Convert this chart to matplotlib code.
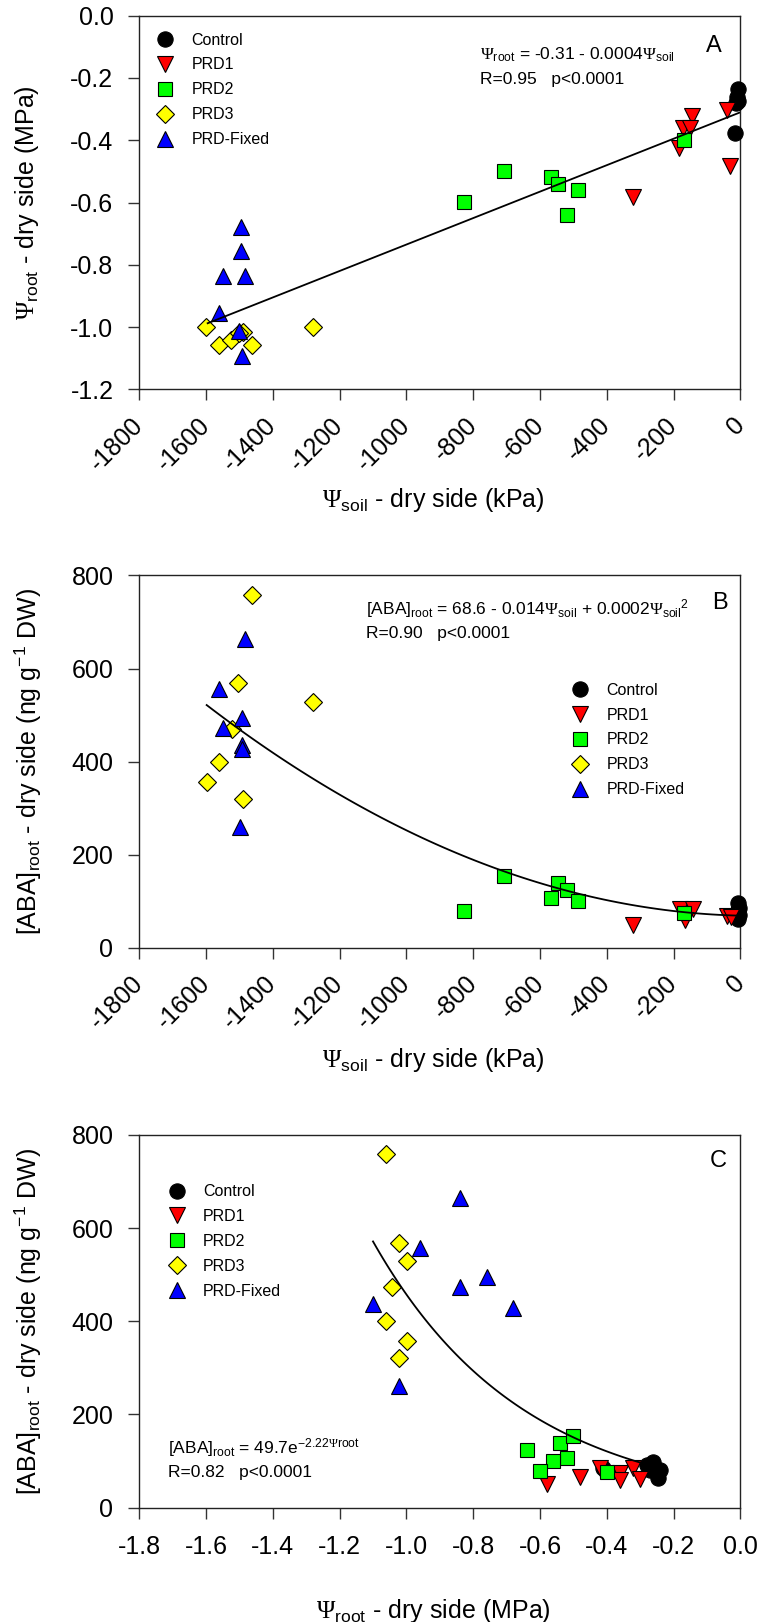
import numpy as np
import matplotlib
matplotlib.use("Agg")
import matplotlib.pyplot as plt
from matplotlib.lines import Line2D

plt.rcParams['font.family'] = ['Liberation Sans', 'DejaVu Sans']
plt.rcParams['mathtext.fontset'] = 'custom'
plt.rcParams['mathtext.rm'] = 'Liberation Serif'
plt.rcParams['mathtext.sf'] = 'Liberation Sans'
plt.rcParams['mathtext.it'] = 'Liberation Sans:italic'
plt.rcParams['axes.unicode_minus'] = False

# ---- data, panel A: soil water potential (kPa) vs root water potential (MPa)
a_ctrl_x = [-8, -10, -6, -12, -16]
a_ctrl_y = [-0.235, -0.26, -0.275, -0.28, -0.376]
a_prd1_x = [-321, -146, -173, -151, -183, -40, -31]
a_prd1_y = [-0.583, -0.322, -0.362, -0.362, -0.426, -0.303, -0.483]
a_prd2_x = [-827, -709, -567, -545, -486, -520, -170]
a_prd2_y = [-0.599, -0.50, -0.519, -0.541, -0.559, -0.639, -0.399]
a_prd3_x = [-1599, -1279, -1560, -1526, -1490, -1462, -1500]
a_prd3_y = [-0.999, -1.0, -1.058, -1.042, -1.015, -1.058, -1.02]
a_fix_x = [-1495, -1495, -1549, -1483, -1562, -1500, -1493]
a_fix_y = [-0.678, -0.755, -0.836, -0.836, -0.954, -1.013, -1.093]

# ---- data, panel B: soil water potential (kPa) vs root ABA (ng/g DW)
b_ctrl_x = [-6, -5, -8, -4, -7]
b_ctrl_y = [95, 85, 80, 70, 61]
b_prd1_x = [-321, -181, -141, -166, -40, -27]
b_prd1_y = [48, 84, 82, 60, 68, 66]
b_prd2_x = [-827, -709, -545, -520, -567, -486, -170]
b_prd2_y = [78, 154, 138, 124, 106, 100, 75]
b_prd3_x = [-1462, -1505, -1279, -1523, -1560, -1598, -1490]
b_prd3_y = [758, 568, 528, 471, 400, 356, 319]
b_fix_x = [-1483, -1561, -1493, -1548, -1493, -1493, -1499]
b_fix_y = [663, 556, 493, 473, 435, 426, 260]

# ---- data, panel C: root water potential (MPa) vs root ABA (ng/g DW)
c_ctrl_x = [-0.261, -0.281, -0.241, -0.246, -0.271, -0.41]
c_ctrl_y = [99, 92, 81, 63, 81, 85]
c_prd1_x = [-0.580, -0.481, -0.421, -0.361, -0.361, -0.321, -0.301]
c_prd1_y = [50, 66, 85, 74, 60, 85, 61]
c_prd2_x = [-0.640, -0.540, -0.500, -0.520, -0.560, -0.600, -0.401]
c_prd2_y = [124, 138, 154, 106, 101, 79, 77]
c_prd3_x = [-1.062, -1.021, -0.999, -1.042, -1.062, -0.999, -1.021]
c_prd3_y = [758, 569, 529, 474, 401, 358, 321]
c_fix_x = [-0.840, -0.959, -0.760, -0.840, -0.680, -1.101, -1.021]
c_fix_y = [665, 558, 496, 474, 428, 437, 261]

# tick values
kpa_ticks = [-1800, -1600, -1400, -1200, -1000, -800, -600, -400, -200, 0]
mpa_ticks = [-1.2, -1.0, -0.8, -0.6, -0.4, -0.2, 0.0]
aba_ticks = [0, 200, 400, 600, 800]
root_ticks = [-1.8, -1.6, -1.4, -1.2, -1.0, -0.8, -0.6, -0.4, -0.2, 0.0]

# fitted regressions
fitA = (-0.31, 0.000425)
fitB = (68.6, -0.0165, 0.000167)
fitC = (49.7, -2.22)

groups = ['Control', 'PRD1', 'PRD2', 'PRD3', 'PRD-Fixed']
styles = {
    'Control': dict(marker='o', color='black', ms=11),
    'PRD1': dict(marker='v', color='#ff0000', ms=12),
    'PRD2': dict(marker='s', color='#00ff00', ms=10),
    'PRD3': dict(marker='D', color='#ffff00', ms=9.4),
    'PRD-Fixed': dict(marker='^', color='#0000ff', ms=12),
}


def fmt1(v):
    return '%.1f' % v if abs(v) > 1e-9 else '0.0'


def scatter_groups(ax, xs, ys):
    for g, x, y in zip(groups, xs, ys):
        st = styles[g]
        ax.plot(x, y, linestyle='none', marker=st['marker'], ms=st['ms'],
                markerfacecolor=st['color'], markeredgecolor='black',
                markeredgewidth=0.8, clip_on=False, zorder=3)


def add_legend(ax, x, y):
    handles = []
    for g in groups:
        st = styles[g]
        handles.append(Line2D([], [], linestyle='none', marker=st['marker'], ms=st['ms'],
                              markerfacecolor=st['color'], markeredgecolor='black',
                              markeredgewidth=0.8, label=g))
    ax.legend(handles=handles, loc='upper left', bbox_to_anchor=(x, y), frameon=False,
              fontsize=11.5, handlelength=1.6, handletextpad=0.85, labelspacing=0.62,
              borderpad=0, borderaxespad=0, numpoints=1)


def style_axes(ax):
    for s in ax.spines.values():
        s.set_linewidth(1.0)
        s.set_color('#222222')
    ax.tick_params(direction='out', length=8, width=1.0, labelsize=18,
                   top=False, right=False, color='#333333')
    ax.tick_params(axis='y', pad=10.5)
    ax.yaxis.label.set_va('center')
    ax.xaxis.label.set_va('center')


def rotate_xlabels(ax):
    ax.tick_params(axis='x', pad=15)
    for lab in ax.get_xticklabels():
        lab.set_rotation(45)
        lab.set_ha('right')
        lab.set_va('center')
        lab.set_rotation_mode('anchor')


fig = plt.figure(figsize=(7.61, 16.22), dpi=100)
left, width = 0.1829, 0.7901
axA = fig.add_axes([left, 0.7600, width, 0.2303])
axB = fig.add_axes([left, 0.4158, width, 0.2294])
axC = fig.add_axes([left, 0.0705, width, 0.2298])

psi_root = r'$\mathrm{Ψ}_{\mathsf{root}}$'
psi_soil = r'$\mathrm{Ψ}_{\mathsf{soil}}$'
aba_label = r'[ABA]$_{\mathsf{root}}$ - dry side (ng g$^{\mathsf{-1}}$ DW)'

# ---------- panel A
scatter_groups(axA, [a_ctrl_x, a_prd1_x, a_prd2_x, a_prd3_x, a_fix_x],
               [a_ctrl_y, a_prd1_y, a_prd2_y, a_prd3_y, a_fix_y])
xa = np.linspace(-1595, 0, 50)
axA.plot(xa, fitA[0] + fitA[1] * xa, color='black', lw=1.3, zorder=4)
axA.set_xlim(-1800, 0)
axA.set_ylim(-1.2, 0)
axA.set_xticks(kpa_ticks)
axA.set_xticklabels([str(v) for v in kpa_ticks])
axA.set_yticks(mpa_ticks)
axA.set_yticklabels([fmt1(v) for v in mpa_ticks])
axA.set_ylabel(psi_root + ' - dry side (MPa)', fontsize=18)
axA.set_xlabel(psi_soil + ' - dry side (kPa)', fontsize=18)
axA.yaxis.set_label_coords(-0.187, 0.5)
axA.xaxis.set_label_coords(0.49, -0.296)
add_legend(axA, 0.0216, 0.955)
axA.text(0.567, 0.895, psi_root + ' = -0.31 - 0.0004' + psi_soil, transform=axA.transAxes,
         fontsize=12.5, va='center')
axA.text(0.567, 0.828, 'R=0.95   p<0.0001', transform=axA.transAxes, fontsize=12.5, va='center')
axA.text(0.956, 0.918, 'A', transform=axA.transAxes, fontsize=17, va='center', ha='center')

# ---------- panel B
scatter_groups(axB, [b_ctrl_x, b_prd1_x, b_prd2_x, b_prd3_x, b_fix_x],
               [b_ctrl_y, b_prd1_y, b_prd2_y, b_prd3_y, b_fix_y])
xb = np.linspace(-1598, -5, 80)
axB.plot(xb, fitB[0] + fitB[1] * xb + fitB[2] * xb ** 2, color='black', lw=1.3, zorder=4)
axB.set_xlim(-1800, 0)
axB.set_ylim(0, 800)
axB.set_xticks(kpa_ticks)
axB.set_xticklabels([str(v) for v in kpa_ticks])
axB.set_yticks(aba_ticks)
axB.set_ylabel(aba_label, fontsize=18)
axB.set_xlabel(psi_soil + ' - dry side (kPa)', fontsize=18)
axB.yaxis.set_label_coords(-0.184, 0.5)
axB.xaxis.set_label_coords(0.49, -0.302)
add_legend(axB, 0.712, 0.712)
axB.text(0.378, 0.912, r'[ABA]$_{\mathsf{root}}$ = 68.6 - 0.014' + psi_soil + ' + 0.0002'
         + r'$\mathrm{Ψ}_{\mathsf{soil}}{}^{\mathsf{2}}$',
         transform=axB.transAxes, fontsize=12.5, va='center')
axB.text(0.378, 0.844, 'R=0.90   p<0.0001', transform=axB.transAxes, fontsize=12.5, va='center')
axB.text(0.966, 0.925, 'B', transform=axB.transAxes, fontsize=17, va='center', ha='center')

# ---------- panel C
scatter_groups(axC, [c_ctrl_x, c_prd1_x, c_prd2_x, c_prd3_x, c_fix_x],
               [c_ctrl_y, c_prd1_y, c_prd2_y, c_prd3_y, c_fix_y])
xc = np.linspace(-1.1, -0.28, 80)
axC.plot(xc, fitC[0] * np.exp(fitC[1] * xc), color='black', lw=1.3, zorder=4)
axC.set_xlim(-1.8, 0)
axC.set_ylim(0, 800)
axC.set_xticks(root_ticks)
axC.set_xticklabels([fmt1(v) for v in root_ticks])
axC.set_yticks(aba_ticks)
axC.set_ylabel(aba_label, fontsize=18)
axC.set_xlabel(psi_root + ' - dry side (MPa)', fontsize=18)
axC.yaxis.set_label_coords(-0.184, 0.5)
axC.xaxis.set_label_coords(0.49, -0.277)
add_legend(axC, 0.041, 0.868)
axC.text(0.048, 0.160, r'[ABA]$_{\mathsf{root}}$ = 49.7e$^{\mathsf{-2.22}\mathrm{Ψ}\mathsf{root}}$',
         transform=axC.transAxes, fontsize=12.5, va='center')
axC.text(0.048, 0.093, 'R=0.82   p<0.0001', transform=axC.transAxes, fontsize=12.5, va='center')
axC.text(0.963, 0.929, 'C', transform=axC.transAxes, fontsize=17, va='center', ha='center')

for ax in (axA, axB, axC):
    style_axes(ax)
for ax in (axA, axB):
    rotate_xlabels(ax)
axC.tick_params(axis='x', pad=11.5)

fig.savefig('out.png', dpi=100)
